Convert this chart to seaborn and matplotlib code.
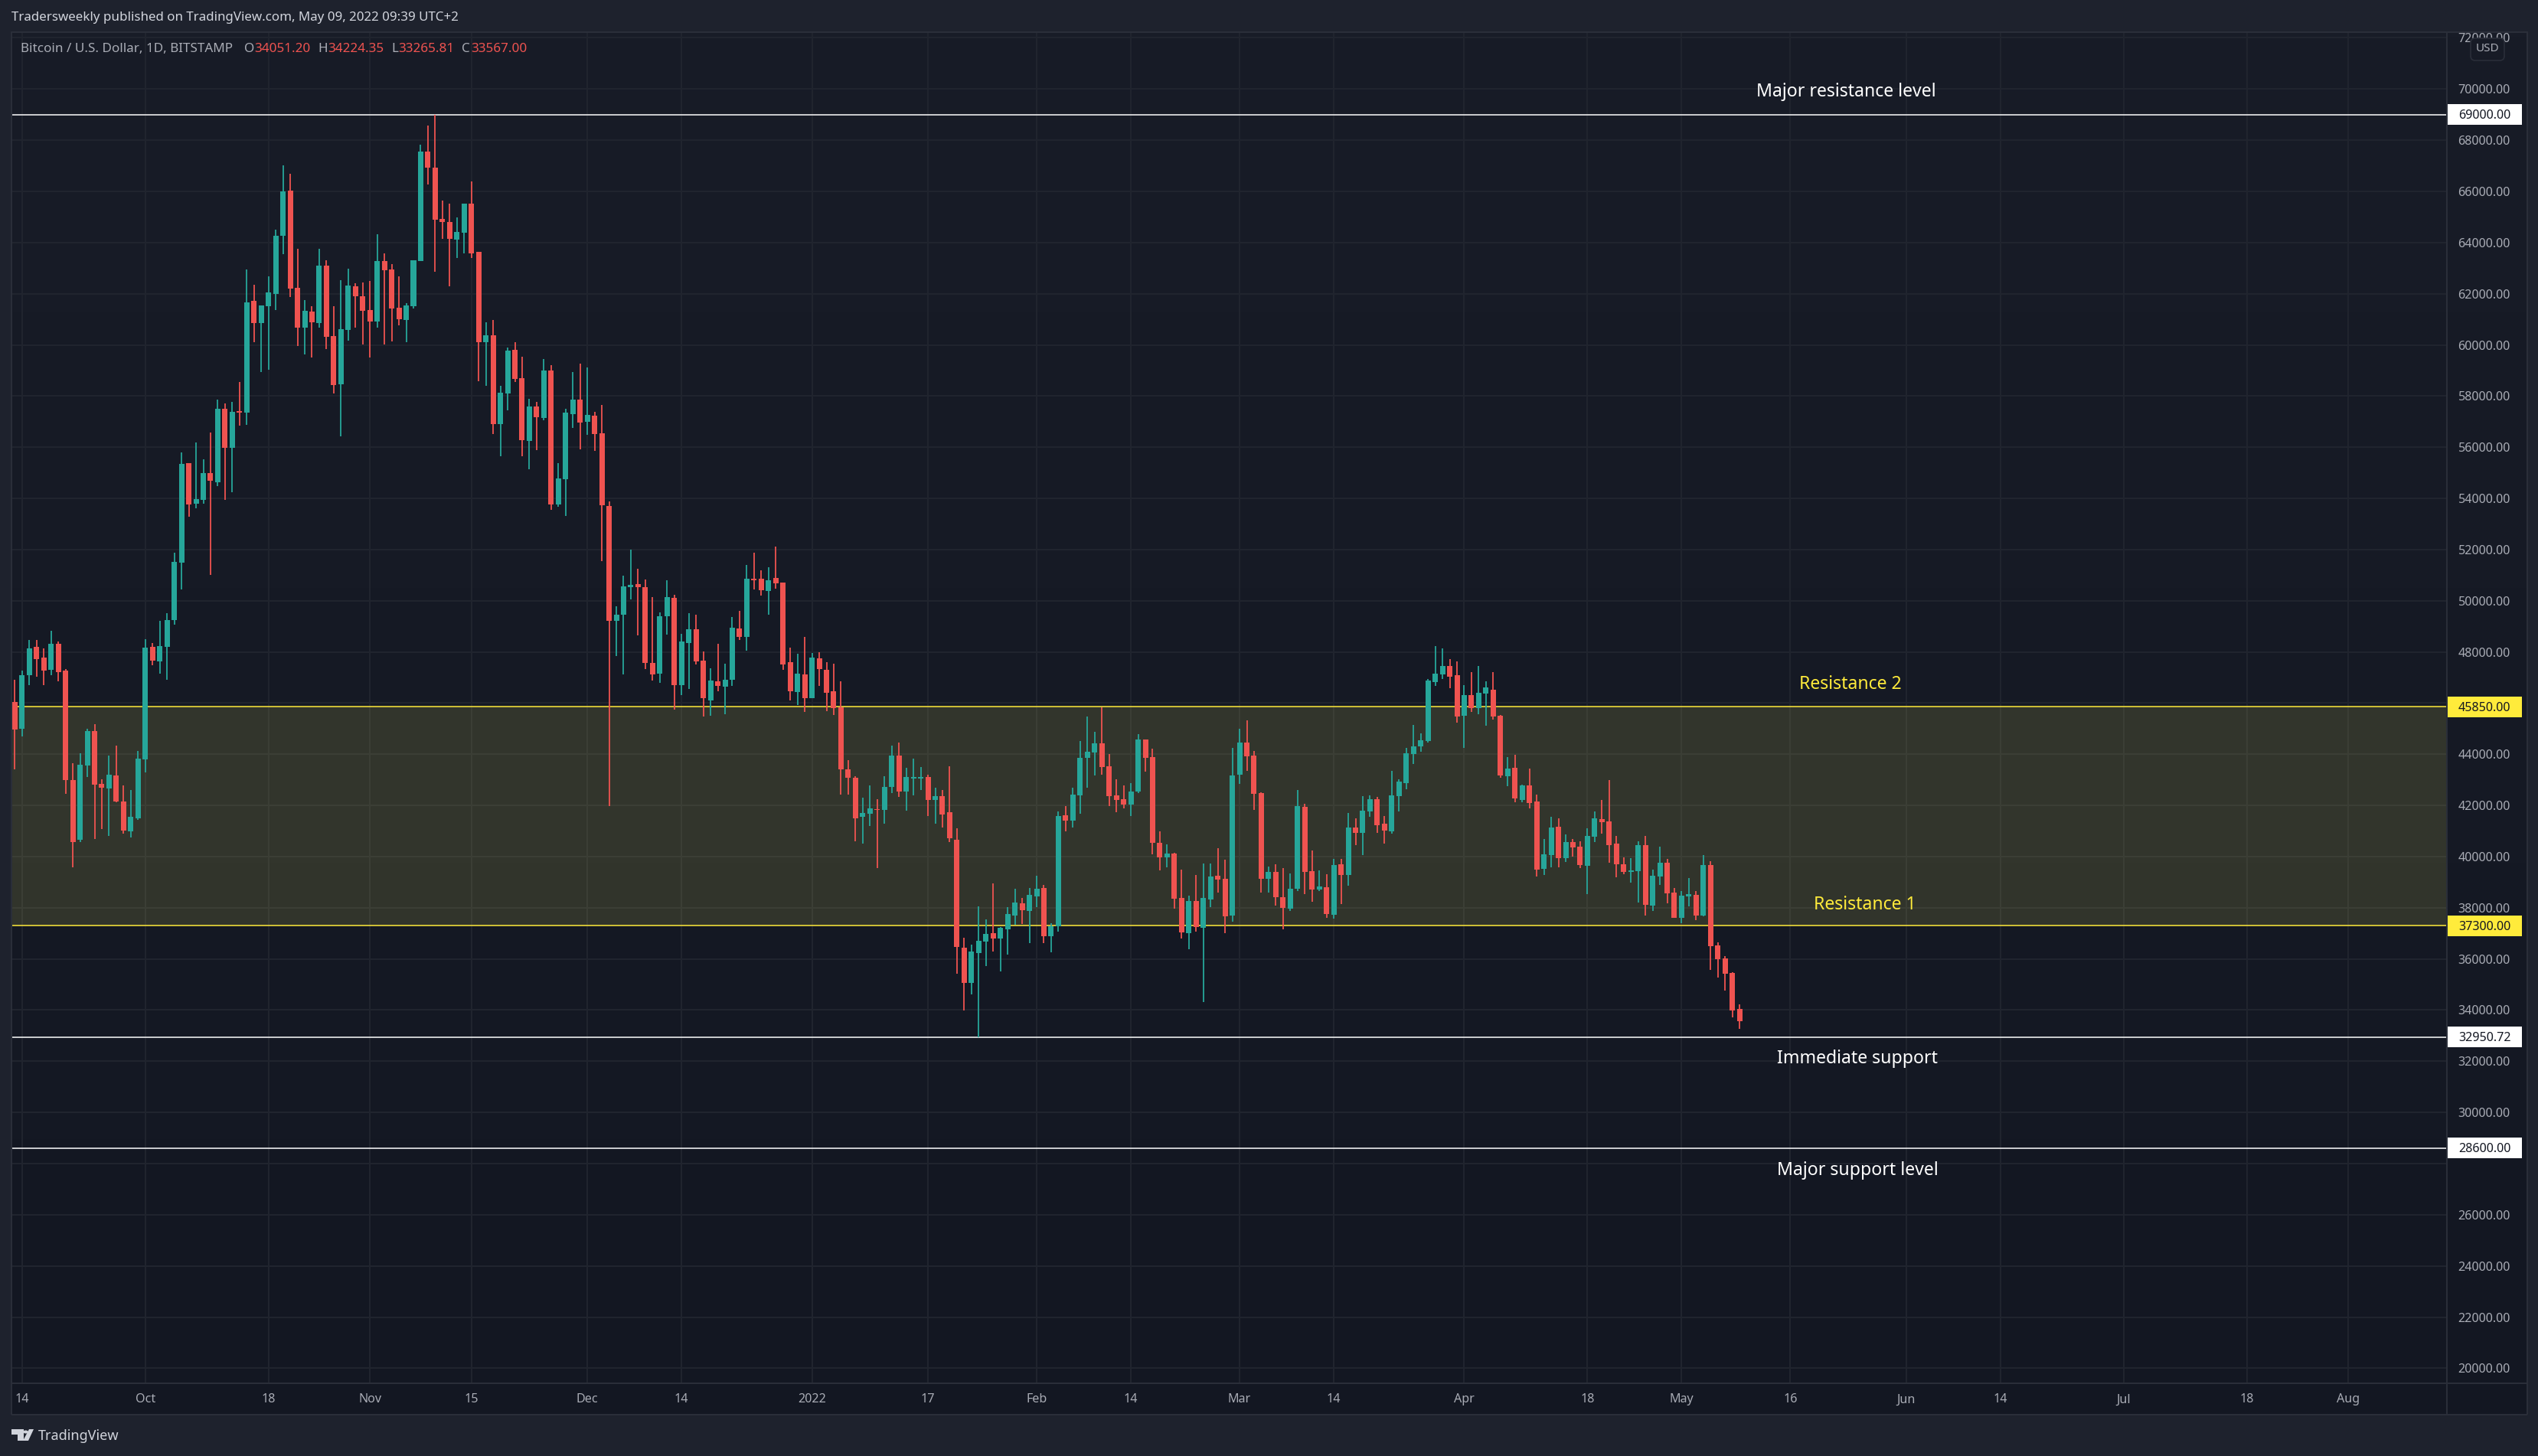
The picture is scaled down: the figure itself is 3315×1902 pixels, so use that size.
import numpy as np
import pandas as pd
import matplotlib
matplotlib.use("Agg")
import matplotlib.pyplot as plt
from matplotlib.patches import Rectangle, Polygon, FancyBboxPatch
import seaborn as sns

opens = [46050,44996,47081,48200,47783,47301,48310,47279,42999,40651,
43570,44909,42846,42670,43175,42144,40980,41485,43789,48200,
47630,48200,49254,51492,55376,53796,53950,54981,54630,57505,
55969,57417,57351,61718,60863,61521,61982,64264,66020,62223,
60665,61302,60863,63101,60336,58471,60577,62289,61894,61367,
60907,63277,62947,61455,60972,61521,63277,67556,66919,64922,
64813,64110,64396,65515,63628,60116,60380,56913,58098,59809,
58690,56254,57593,57154,58997,53752,54740,57286,57856,57000,
57242,56540,53703,49209,49452,50526,50654,50526,47563,47148,
49395,50111,46704,48350,48880,47663,46103,46847,46647,46905,
48908,48579,50855,50855,50382,50883,50712,47606,46432,47119,
46189,47749,47305,46461,45846,43413,43083,41552,41681,41852,
41824,42726,43942,42540,43055,43055,43112,42210,42368,41738,
40650,36443,35069,36228,36672,37001,36800,37158,37688,38174,
37874,38446,38775,36886,37287,41609,41409,42396,43856,44071,
44429,43527,42396,42239,42039,42540,44572,43885,40536,39963,
40121,38389,37001,38260,37215,38322,39249,39135,37692,43200,
44459,43944,42478,39135,39398,38414,37967,38746,41940,39433,
38711,38803,37727,39696,39284,41139,40921,41768,42238,41288,
40990,42364,42868,44013,44310,44516,46818,47116,47448,47093,
45501,46314,45799,46371,46520,45501,43142,43463,42215,42776,
42158,39524,40062,41162,39936,40566,40383,39639,40772,41459,
41379,40509,39696,39398,39433,40452,38082,39215,39753,38597,
37601,38436,38505,37692,39673,36524,36021,35448,34051.20]

highs = [46906,47279,48464,48464,48135,48815,48398,47323,43636,44031,
44996,45172,43021,43943,44338,42780,42604,44119,48486,48354,
49210,49517,51887,55793,55376,56188,55530,56583,57856,57703,
57768,58558,62947,62355,61543,62684,64505,67007,66678,63759,
61762,61499,63759,63320,61521,62530,62969,62399,62443,62508,
64330,63584,63145,62684,61631,63298,67819,68565,69000,65647,
65515,64988,65515,66393,63628,60885,60972,58405,59897,60116,
59546,57878,57768,59436,59195,55376,57505,58931,59261,59129,
57395,57659,53889,49781,50984,52000,51256,50826,50139,49538,
50798,50225,48694,49509,49452,48021,47363,48322,47534,49366,
49610,51399,51871,51184,51313,52114,50712,48164,47935,48579,
47964,47992,47606,47534,46847,43770,43126,42296,42783,42239,
43141,44343,44457,43470,43828,43498,43198,42697,42597,43527,
41108,36829,36557,38060,37545,38947,37258,38017,38747,38389,
38775,39262,38890,37401,41767,41981,42683,44515,45488,44872,
45846,43999,43026,42783,42869,44786,44572,44214,40979,40479,
40149,39491,38461,39291,39734,39730,40326,39879,44242,44997,
45329,44127,42524,39604,39696,39547,39353,42604,42055,40234,
39456,39307,39914,39914,41700,41494,42364,42387,42318,41585,
43349,43017,44242,45146,44803,46932,48226,48135,47722,47631,
46715,47207,47448,46864,47207,45547,43887,43978,42810,43440,
42410,40681,41551,41494,40864,40681,40601,41093,41757,42215,
42994,40807,39971,39936,40601,40807,39490,40383,39914,38769,
38665,39158,38654,40062,39833,36650,36112,35482,34224.35]

lows = [43416,44689,46708,47037,46708,47081,46862,42451,39576,40563,
43109,40695,41068,40805,42122,40893,40739,41441,43285,47476,
47147,46906,49056,50439,53292,53621,53796,51009,54477,53928,
54235,56847,56869,60116,58931,59019,61367,63540,61872,59963,
59634,59502,60665,59831,58098,56430,60160,60665,60007,59502,
60665,60007,60138,60775,60116,61411,63277,66261,62860,64154,
62289,63408,63584,63386,58580,58405,56518,55640,57439,58536,
55640,55135,55881,57066,53555,53665,53314,56759,55925,56496,
55859,51558,41967,47835,47119,50053,48651,47334,46876,46790,
48679,45745,46318,46547,47506,45473,45502,46461,45559,46676,
48465,48050,50440,50196,49452,50468,47305,46103,45917,45660,
46189,46676,45688,45531,42425,42425,40593,40507,41194,39548,
41280,42482,42339,41795,42396,42597,41581,41280,41137,40564,
35426,33981,34611,32950,35727,36285,35512,36171,37330,37359,
36614,38017,36614,36256,37072,40979,41137,41681,42697,43169,
43198,41967,41738,41881,41581,42482,43327,40092,39462,39577,
37960,36800,36385,37072,34310,38024,38585,37005,37452,42845,
43349,41826,38597,38585,38082,37154,37887,38654,38528,38230,
38654,37601,37578,38139,38860,40452,40062,41551,40921,40509,
40898,41768,42627,43623,44093,44459,46669,46944,46577,45238,
44242,45650,45558,45112,45352,43085,42753,42123,42123,41883,
39215,39284,39581,39581,39788,39994,39547,38528,40578,40898,
39753,39192,39307,38975,38207,37692,37875,38894,38173,37601,
37395,38047,37509,37669,35574,35265,34761,33719,33265.81]

closes = [44953,47081,48135,47718,47279,48310,47213,42999,40563,43592,
44909,42802,42692,43197,42144,41002,41551,43833,48156,47652,
48222,49254,51514,55354,53752,53972,54981,54696,57505,55969,
57373,57351,61653,60863,61543,62048,64264,65998,62201,60665,
61323,60885,63101,60314,58427,60621,62311,61894,61321,60907,
63277,62925,61433,60994,61543,63298,67556,66919,64901,64791,
64154,64418,65515,63584,60116,60380,56913,58141,59787,58668,
56276,57593,57176,58997,53752,54784,57351,57856,56956,57264,
56518,53731,49209,49452,50554,50626,50526,47563,47119,49395,
50139,46704,48407,48880,47635,46189,46876,46676,46905,48951,
48579,50855,50798,50411,50798,50683,47506,46461,47148,46189,
47778,47334,46404,45803,43413,43083,41495,41709,41881,41824,
42726,43942,42540,43112,43112,43112,42210,42368,41638,40722,
36471,35069,36285,36714,36972,36800,37215,37759,38203,37902,
38503,38747,36886,37287,41581,41409,42425,43856,44099,44429,
43498,42368,42210,42039,42540,44572,43856,40536,39963,40121,
38346,37044,38260,37244,38389,39215,39101,37669,43165,44459,
43921,42455,39135,39398,38414,37990,38746,41975,39398,38711,
38826,37749,39673,39284,41139,40921,41791,42238,41219,41013,
42387,42925,44036,44310,44551,46875,47150,47448,47024,45478,
46314,45799,46406,46612,45478,43165,43440,42272,42776,42089,
39490,40085,41139,39936,40566,40360,39673,40807,41494,41345,
40452,39696,39398,39456,40452,38116,39249,39753,38562,37601,
38471,38528,37692,39673,36501,35986,35425,33982,33567.00]

start_date = "2021-09-13"
tick_dates = ["2021-09-14","2021-10-01","2021-10-18","2021-11-01","2021-11-15","2021-12-01",
              "2021-12-14","2022-01-01","2022-01-17","2022-02-01","2022-02-14","2022-03-01",
              "2022-03-14","2022-04-01","2022-04-18","2022-05-01","2022-05-16","2022-06-01",
              "2022-06-14","2022-07-01","2022-07-18","2022-08-01"]
tick_labels = ["14","Oct","18","Nov","15","Dec","14","2022","17","Feb","14","Mar",
               "14","Apr","18","May","16","Jun","14","Jul","18","Aug"]
price_ticks = list(range(20000, 72001, 2000))
hidden_price_labels = [46000, 28000]
white_levels = [69000.00, 32950.72, 28600.00]
yellow_levels = [45850.00, 37300.00]
notes = [("Major resistance level", 69900, 252.7, "white"),
         ("Resistance 2", 46740, 253.3, "#ffeb3b"),
         ("Resistance 1", 38120, 255.3, "#ffeb3b"),
         ("Immediate support", 32106, 254.3, "white"),
         ("Major support level", 27737, 254.3, "white")]

W, H = 3316, 1902
UP, DOWN = "#26a69a", "#ef5350"
FRAME = "#1e222d"
GRID = "#21252f"
BORDER = "#2a2e39"
TXT = "#a9acb5"
FONT = ["Noto Sans", "DejaVu Sans"]

sns.set_theme(style="dark")
plt.rcParams["font.family"] = FONT

df = pd.DataFrame({"o": opens, "h": highs, "l": lows, "c": closes})
df["day"] = np.arange(len(df))
df["bottom"] = df[["o", "c"]].min(axis=1)
df["body"] = (df["c"] - df["o"]).abs()
df["up"] = df["c"] >= df["o"]
wicks = df.melt(id_vars=["day", "up"], value_vars=["h", "l"], value_name="price")

fig = plt.figure(figsize=(W / 100, H / 100), dpi=100, facecolor=FRAME)


def fx(px):
    return px / W


def fy(py):
    return 1 - py / H


def box(x0, y0, x1, y1):
    return [fx(x0), fy(y1), fx(x1) - fx(x0), fy(y0) - fy(y1)]


# pane background with faint vertical gradient
bg = fig.add_axes(box(15, 41, 3301, 1848), zorder=0)
bg.imshow(np.linspace(0, 1, 256)[:, None], aspect="auto", origin="upper",
          cmap=matplotlib.colors.LinearSegmentedColormap.from_list("p", ["#181c27", "#131722"]))
bg.set_axis_off()

ax = fig.add_axes(box(15, 41, 3196, 1807), zorder=1)
ax.set_facecolor("none")

sns.lineplot(data=wicks[wicks.up], x="day", y="price", units="day", estimator=None, color=UP,
             linewidth=1.3, solid_capstyle="butt", ax=ax, legend=False, zorder=5, sort=False)
sns.lineplot(data=wicks[~wicks.up], x="day", y="price", units="day", estimator=None, color=DOWN,
             linewidth=1.3, solid_capstyle="butt", ax=ax, legend=False, zorder=5, sort=False)
for mask, col in ((df.up, UP), (~df.up, DOWN)):
    part = df[mask]
    sns.barplot(x=part["day"].to_numpy(), y=part["body"].to_numpy(), bottom=part["bottom"].to_numpy(),
                native_scale=True, color=col, saturation=1, width=0.74, errorbar=None,
                linewidth=0, ax=ax, zorder=6)

ax.set_xlim(-0.465, 335.6)
ax.set_ylim(19412, 72254)
ax.set_xlabel("")
ax.set_ylabel("")

base = pd.Timestamp(start_date)
ax.set_xticks([(pd.Timestamp(d) - base).days for d in tick_dates])
ax.set_xticklabels(tick_labels, fontsize=11.6, color=TXT)
for t in ax.get_xticklabels():
    if t.get_text() == "2022":
        t.set_fontweight("bold")
ax.yaxis.tick_right()
ax.set_yticks(price_ticks)
ax.set_yticklabels(["" if p in hidden_price_labels else f"{p:.2f}" for p in price_ticks],
                   fontsize=11.6, color=TXT)
ax.tick_params(axis="x", length=0, pad=9.6)
ax.tick_params(axis="y", length=0, pad=10.5)
ax.grid(True, color=GRID, linewidth=1.4, zorder=1)
ax.set_axisbelow(True)
for s in ax.spines.values():
    s.set_visible(False)

# resistance band and levels
ax.axhspan(yellow_levels[1], yellow_levels[0], color="#e0dc60", alpha=0.145, linewidth=0, zorder=2)
for lvl in yellow_levels:
    ax.axhline(lvl, color="#ffeb3b", linewidth=1.1, zorder=3)
for lvl in white_levels:
    ax.axhline(lvl, color="white", linewidth=1.1, zorder=3)

# price tags on the scale
tr = ax.get_yaxis_transform()
pane_w = 3196 - 15
tag_h = 27 / 0.03342
for lvl, col in [(v, "white") for v in white_levels] + [(v, "#ffeb3b") for v in yellow_levels]:
    ax.add_patch(Rectangle((1.0, lvl - tag_h / 2), 98 / pane_w, tag_h, transform=tr, facecolor=col,
                           edgecolor="none", clip_on=False, zorder=10))
    ax.text(1 + 15 / pane_w, lvl - 40, f"{lvl:.2f}", transform=tr, color="#131722", fontsize=11.6,
            va="center", ha="left", zorder=11, clip_on=False)

for text, price, day, col in notes:
    ax.text(day, price, text, color=col, fontsize=16.6, ha="center", va="center", zorder=12)

# frame lines
for rect in [(15, 41, 3301, 43), (15, 1847, 3301, 1849), (14, 41, 16, 1848), (3300, 41, 3302, 1848),
             (15, 1806, 3301, 1808), (3195, 41, 3197, 1848)]:
    fig.add_artist(Rectangle((fx(rect[0]), fy(rect[3])), fx(rect[2]) - fx(rect[0]), fy(rect[1]) - fy(rect[3]),
                             transform=fig.transFigure, facecolor=BORDER, edgecolor="none", zorder=3))

# USD badge
fig.add_artist(FancyBboxPatch((3229, H - 77), 40, 25, boxstyle="round,pad=2,rounding_size=6",
                              transform=None, facecolor="#171b26", edgecolor=BORDER, linewidth=1.2, zorder=5))
fig.text(fx(3249), fy(63.5), "USD", color=TXT, fontsize=11, ha="center", va="center", zorder=6)

# header and legend
fig.text(fx(15), fy(23), "Tradersweekly published on TradingView.com, May 09, 2022 09:39 UTC+2",
         color="#d1d4dc", fontsize=12.2, ha="left", va="center", zorder=6)
fig.text(fx(27), fy(64.5), "Bitcoin / U.S. Dollar, 1D, BITSTAMP", color=TXT, fontsize=12.3,
         ha="left", va="center", zorder=6)
for px, lab, px2, val in [(319, "O", 332, "34051.20"), (415, "H", 428, "34224.35"),
                          (511, "L", 520, "33265.81"), (603, "C", 615, "33567.00")]:
    fig.text(fx(px), fy(64.5), lab, color=TXT, fontsize=12.3, ha="left", va="center", zorder=6)
    fig.text(fx(px2), fy(64.5), val, color="#ef5350", fontsize=12.3, ha="left", va="center", zorder=6)

# TradingView logo
logo = "#d1d4dc"
for pts in [[(15, 1867), (31, 1867), (31, 1882), (23, 1882), (23, 1874), (15, 1874)],
            [(38, 1867), (44, 1867), (37, 1882), (30, 1882)]]:
    fig.add_artist(Polygon([(fx(a), fy(b)) for a, b in pts], closed=True, transform=fig.transFigure,
                           facecolor=logo, edgecolor="none"))
fig.add_artist(plt.Circle((fx(33.5), fy(1870.5)), 3.5 / W, transform=fig.transFigure, facecolor=logo, edgecolor="none"))
fig.text(fx(50), fy(1876), "TradingView", color=logo, fontsize=13, ha="left", va="center")

fig.savefig("out.png", dpi=100, facecolor=FRAME)
